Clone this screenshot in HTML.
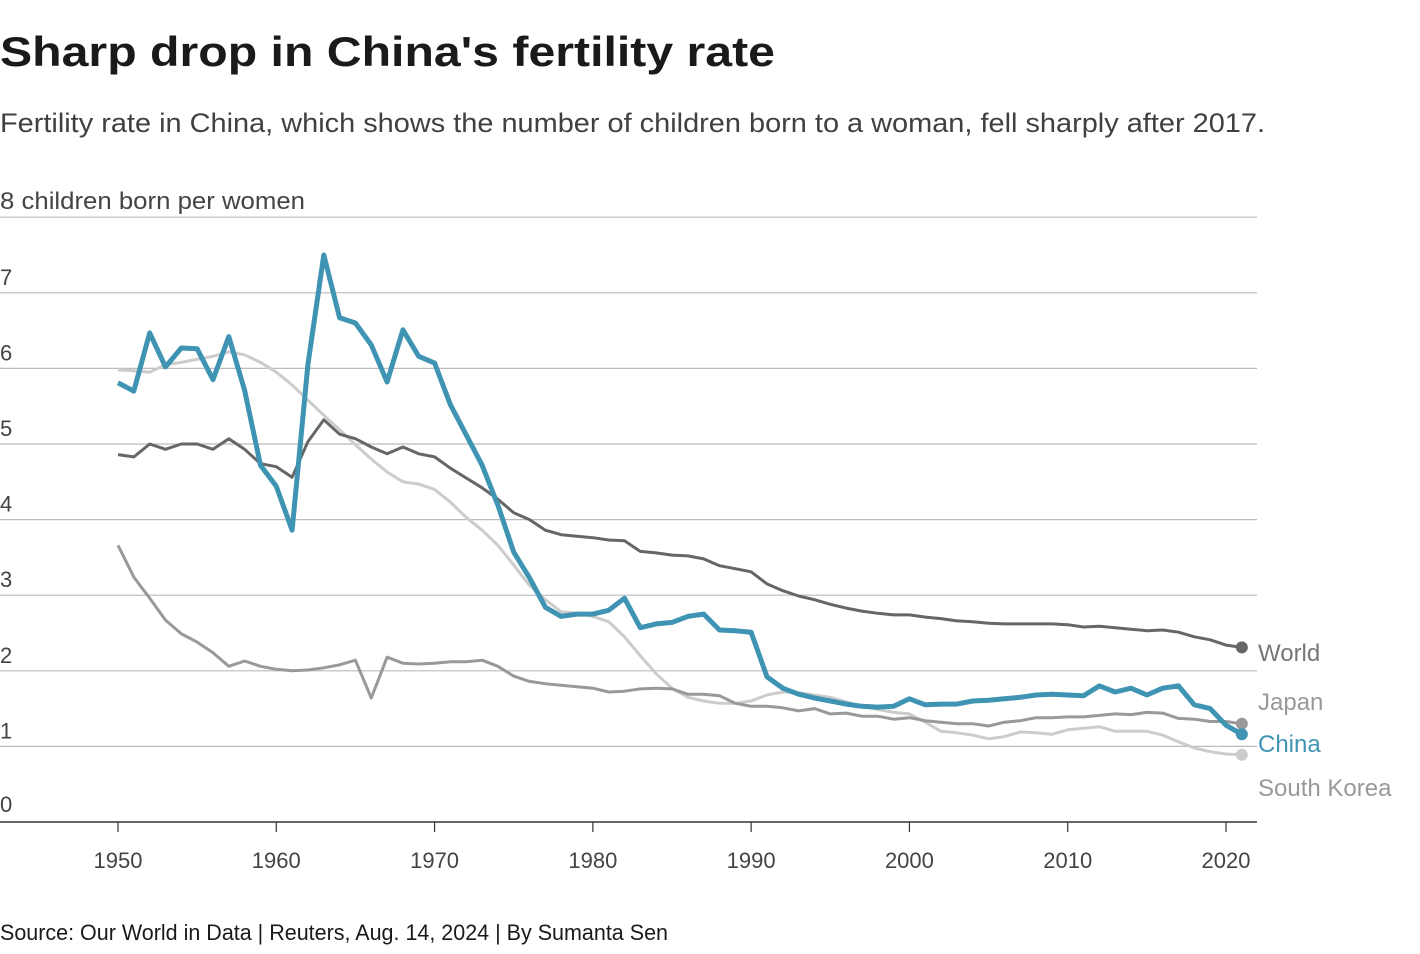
<!DOCTYPE html>
<html><head><meta charset="utf-8"><style>
body{margin:0;background:#fff;}
svg{display:block;font-family:"Liberation Sans",sans-serif;}
</style></head><body>
<svg id="chart" width="1420" height="954">
<text x="0" y="66" font-size="42" font-weight="bold" fill="#1a1a1a" textLength="775" lengthAdjust="spacingAndGlyphs">Sharp drop in China's fertility rate</text>
<text x="0" y="132" font-size="27" fill="#404040" textLength="1265" lengthAdjust="spacingAndGlyphs">Fertility rate in China, which shows the number of children born to a woman, fell sharply after 2017.</text>
<text x="0" y="940" font-size="22" fill="#1a1a1a" textLength="668" lengthAdjust="spacingAndGlyphs">Source: Our World in Data | Reuters, Aug. 14, 2024 | By Sumanta Sen</text>
<g id="grid"></g><g id="lines"></g><g id="labels"></g>
</svg>
<script>
const years=[];for(let y=1950;y<=2021;y++)years.push(y);
const yTicks=[0,1,2,3,4,5,6,7,8];
const xTicks=[1950,1960,1970,1980,1990,2000,2010,2020];
const china=[5.81,5.70,6.47,6.02,6.27,6.26,5.85,6.42,5.71,4.72,4.44,3.86,6.05,7.50,6.67,6.60,6.31,5.82,6.51,6.16,6.07,5.52,5.12,4.72,4.19,3.57,3.23,2.84,2.72,2.75,2.75,2.80,2.96,2.57,2.62,2.64,2.72,2.75,2.54,2.53,2.51,1.92,1.77,1.69,1.64,1.60,1.56,1.53,1.52,1.53,1.63,1.55,1.56,1.56,1.60,1.61,1.63,1.65,1.68,1.69,1.68,1.67,1.80,1.72,1.77,1.68,1.77,1.80,1.55,1.50,1.28,1.16];
const world=[4.86,4.83,5.0,4.93,5.0,5.0,4.93,5.07,4.93,4.74,4.70,4.56,5.03,5.32,5.13,5.07,4.96,4.87,4.96,4.87,4.83,4.68,4.55,4.42,4.27,4.09,4.0,3.86,3.80,3.78,3.76,3.73,3.72,3.58,3.56,3.53,3.52,3.48,3.39,3.35,3.31,3.15,3.06,2.99,2.94,2.88,2.83,2.79,2.76,2.74,2.74,2.71,2.69,2.66,2.65,2.63,2.62,2.62,2.62,2.62,2.61,2.58,2.59,2.57,2.55,2.53,2.54,2.51,2.45,2.41,2.34,2.31];
const korea=[5.98,5.97,5.95,6.05,6.08,6.12,6.16,6.22,6.18,6.08,5.95,5.78,5.58,5.38,5.19,4.99,4.80,4.63,4.50,4.47,4.40,4.23,4.03,3.86,3.66,3.40,3.13,2.94,2.78,2.76,2.72,2.65,2.45,2.20,1.96,1.77,1.65,1.60,1.57,1.57,1.60,1.68,1.72,1.71,1.68,1.65,1.59,1.53,1.49,1.45,1.43,1.32,1.20,1.18,1.15,1.10,1.13,1.19,1.18,1.16,1.22,1.24,1.26,1.20,1.20,1.20,1.15,1.06,0.98,0.93,0.90,0.89];
const japan=[3.66,3.24,2.96,2.67,2.49,2.38,2.24,2.06,2.13,2.06,2.02,2.0,2.01,2.04,2.08,2.14,1.64,2.18,2.10,2.09,2.10,2.12,2.12,2.14,2.06,1.93,1.86,1.83,1.81,1.79,1.77,1.72,1.73,1.76,1.77,1.76,1.69,1.69,1.67,1.57,1.53,1.53,1.51,1.47,1.50,1.43,1.44,1.40,1.40,1.36,1.38,1.34,1.32,1.30,1.30,1.27,1.32,1.34,1.38,1.38,1.39,1.39,1.41,1.43,1.42,1.45,1.44,1.37,1.36,1.33,1.33,1.30];
const X=y=>118+(y-1950)*(1226-118)/70;
const Y=v=>822-v*75.6;
const NS="http://www.w3.org/2000/svg";
function mk(t,a,p){const e=document.createElementNS(NS,t);for(const k in a)e.setAttribute(k,a[k]);p.appendChild(e);return e;}
const grid=document.getElementById('grid'),lines=document.getElementById('lines'),labels=document.getElementById('labels');
yTicks.forEach(v=>{
 const l=mk('line',{x1:0,x2:1257,y1:Y(v),y2:Y(v),stroke:v===0?'#333':'#bbb','stroke-width':v===0?1.5:1.2},grid);
 
 
 const a={x:0,y:Y(v)-8+(v===0?-2:0),'font-size':22,fill:'#444'};
 if(v===8){a.textLength=305;a.lengthAdjust='spacingAndGlyphs';a['font-size']=24;}
 const t=mk('text',a,grid);
 t.textContent=v===8?'8 children born per women':String(v);
 
 
});
xTicks.forEach(yr=>{
 const l=mk('line',{x1:X(yr),x2:X(yr),y1:822,y2:832,stroke:'#333','stroke-width':1.2},grid);
 
 
 const t=mk('text',{x:X(yr),y:868,'font-size':22,fill:'#444','text-anchor':'middle'},grid);
 t.textContent=yr;
 
 
});
const series=[
 {n:'south-korea',label:'South Korea',d:korea,c:'#cccccc',w:3,ly:796,lc:'#999'},
 {n:'japan',label:'Japan',d:japan,c:'#999999',w:3,ly:710,lc:'#999'},
 {n:'world',label:'World',d:world,c:'#666666',w:3,ly:661,lc:'#777'},
 {n:'china',label:'China',d:china,c:'#3f93b3',w:5,ly:752,lc:'#3f93b3'}
];
series.forEach(s=>{
 const p=mk('path',{d:s.d.map((v,i)=>(i?'L':'M')+X(years[i]).toFixed(1)+','+Y(v).toFixed(1)).join(''),fill:'none',stroke:s.c,'stroke-width':s.w,'stroke-linejoin':'round'},lines);
 
 
 const last=s.d.length-1;
 const c=mk('circle',{cx:X(years[last]),cy:Y(s.d[last]),r:6,fill:s.c},lines);
 
 
 const t=mk('text',{x:1258,y:s.ly,'font-size':24,fill:s.lc},labels);
 t.textContent=s.label;
 
 
});
</script>
</body></html>
